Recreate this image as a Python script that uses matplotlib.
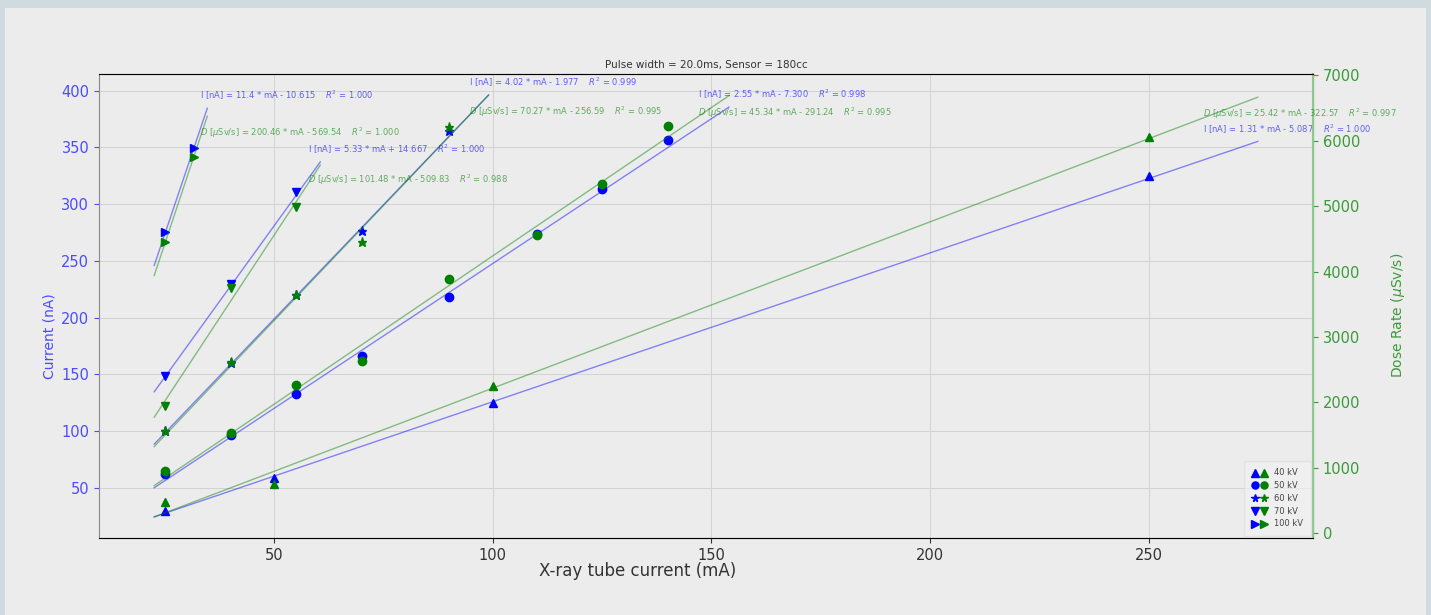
import matplotlib
matplotlib.use("Agg")
import matplotlib.pyplot as plt
from matplotlib.patches import Rectangle
from matplotlib.legend_handler import HandlerTuple
import numpy as np

# ---- measurements: tube current (mA) -> chamber current (nA) and dose rate (uSv/s) ----
kv_labels = ["40 kV", "50 kV", "60 kV", "70 kV", "100 kV"]

ma_40 = [25, 50, 100, 250]
cur_40 = [29.9, 58.8, 124.6, 324.5]
dose_40 = [483, 754, 2253, 6062]

ma_50 = [25, 40, 55, 70, 90, 110, 125, 140]
cur_50 = [61.8, 96.3, 132.5, 166.2, 218.4, 273.2, 313.0, 356.6]
dose_50 = [944, 1538, 2270, 2636, 3890, 4563, 5343, 6220]

ma_60 = [25, 40, 55, 70, 90]
cur_60 = [99.8, 160.1, 220.1, 276.0, 364.6]
dose_60 = [1556, 2621, 3645, 4456, 6211]

ma_70 = [25, 40, 55]
cur_70 = [148.5, 229.9, 310.2]
dose_70 = [1947, 3748, 4996]

ma_100 = [25, 31.5]
cur_100 = [275.3, 349.0]
dose_100 = [4446, 5752]

# linear fits per kV
i_slope = [1.31, 2.55, 4.02, 5.33, 11.4]
i_icept = [-5.087, -7.300, -1.977, 14.667, -10.615]
i_r2 = [1.000, 0.998, 0.999, 1.000, 1.000]
d_slope = [25.42, 45.34, 70.27, 101.48, 200.46]
d_icept = [-322.57, -291.24, -256.59, -509.83, -569.54]
d_r2 = [0.997, 0.995, 0.995, 0.988, 1.000]

title = "Pulse width = 20.0ms, Sensor = 180cc"

ma_all = [ma_40, ma_50, ma_60, ma_70, ma_100]
cur_all = [cur_40, cur_50, cur_60, cur_70, cur_100]
dose_all = [dose_40, dose_50, dose_60, dose_70, dose_100]
markers = ["^", "o", "*", "v", ">"]

BLUE, GREEN = "#0000ff", "#008000"
BG = "#ececec"

fig = plt.figure(figsize=(14.31, 6.15), dpi=100)
fig.patch.set_facecolor("#d0dbe0")
fig.add_artist(Rectangle((5 / 1431, 0), 1421 / 1431, 607 / 615, transform=fig.transFigure,
                         facecolor=BG, edgecolor="none", zorder=-10))

ax = fig.add_axes([0.0692, 0.1252, 0.8483, 0.7545])
ax.set_facecolor(BG)
ax2 = ax.twinx()

def sgn(b, nd):
    return f"+ {b:.{nd}f}" if b >= 0 else f"- {abs(b):.{nd}f}"

handles = []
for k in range(5):
    x = np.asarray(ma_all[k], float)
    ms = 6.5 if markers[k] == "*" else 6
    xf = np.array([0.9 * x.min(), 1.1 * x.max()])
    yi = i_slope[k] * xf + i_icept[k]
    yd = d_slope[k] * xf + d_icept[k]
    ax.plot(xf, yi, color=BLUE, alpha=0.45, lw=1)
    hb, = ax.plot(x, cur_all[k], ls="none", marker=markers[k], color=BLUE, ms=ms)
    ax2.plot(xf, yd, color=GREEN, alpha=0.45, lw=1)
    hg, = ax2.plot(x, dose_all[k], ls="none", marker=markers[k], color=GREEN, ms=ms)
    handles.append((hb, hg))

    # fit equations next to the upper end of each line
    xt = 1.05 * x.max()
    ax.text(xt, i_slope[k] * 1.1 * x.max() + i_icept[k] + 11,
            f"I [nA] = {i_slope[k]:.3g} * mA {sgn(i_icept[k], 3)}    $R^2$ = {i_r2[k]:.3f}",
            color=BLUE, alpha=0.6, fontsize=6, ha="left", va="center")
    ax2.text(xt, d_slope[k] * xt + d_icept[k] + 60,
             f"$D$ [$\\mu$Sv/s] = {d_slope[k]:.2f} * mA {sgn(d_icept[k], 2)}    $R^2$ = {d_r2[k]:.3f}",
             color=GREEN, alpha=0.6, fontsize=6, ha="left", va="center")

ax.grid(True, color="#d2d2d2", lw=0.7)
ax.set_axisbelow(True)
ax.set_xlabel("X-ray tube current (mA)", fontsize=12, color="#333333")
ax.xaxis.set_label_coords(0.444, -0.052)
ax.set_ylabel("Current (nA)", fontsize=10, color="#4b4bff")
ax.yaxis.set_label_coords(-0.035, 0.435)
ax2.set_ylabel("Dose Rate ($\\mu$Sv/s)", fontsize=10, color="#3a9a3a")
ax2.yaxis.set_label_coords(1.063, 0.48)
ax.tick_params(axis="y", colors="#4b4bff", labelsize=10.5)
ax.tick_params(axis="x", colors="#333333", labelsize=10.5)
ax2.tick_params(axis="y", colors="#3a9a3a", labelsize=10.5)
for s in ("left", "bottom", "top"):
    ax.spines[s].set_color("#888888")
ax2.spines["right"].set_color("#8cc98c")
ax2.spines["right"].set_linewidth(1.5)
ax2.spines["left"].set_visible(False)
ax.set_title(title, fontsize=7.5, color="#333333", pad=4)

leg = ax2.legend(handles, kv_labels, handler_map={tuple: HandlerTuple(ndivide=None, pad=0.3)},
                 loc="lower right", fontsize=6, handlelength=2.0, borderaxespad=0.25,
                 borderpad=0.9, labelspacing=0.45, markerscale=0.85, framealpha=0.6,
                 edgecolor="#dddddd", facecolor="#f2f2f2")
for t in leg.get_texts():
    t.set_color("#444444")

fig.savefig("out.png", dpi=100, facecolor=fig.get_facecolor())
